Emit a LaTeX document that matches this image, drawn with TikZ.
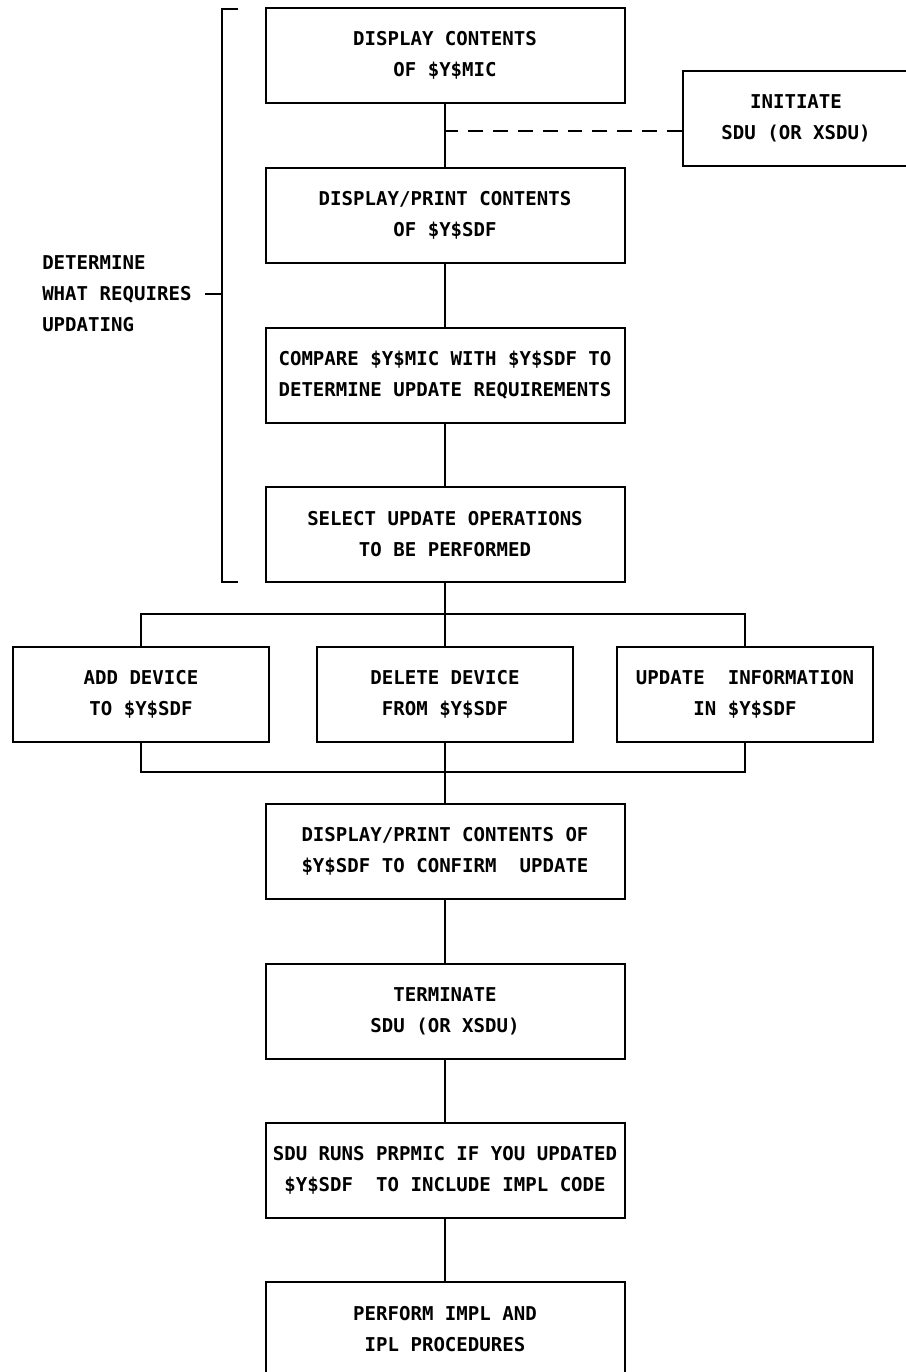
\documentclass[tikz,border=0pt]{standalone}
\usepackage{fontspec}
\setmonofont{DejaVu Sans Mono}
\tikzset{
  txtfont/.style={font=\ttfamily\bfseries\fontsize{14.3pt}{23.25pt}\selectfont},
  box/.style={draw, line width=1.5pt, minimum width=269.25pt, minimum height=71.25pt, align=center, inner sep=0pt, txtfont},
  sbox/.style={box, minimum width=192pt},
  ibox/.style={box, minimum width=170pt},
  conn/.style={line width=1.5pt},
  dashconn/.style={line width=1.5pt, dash pattern=on 11.1pt off 7.5pt},
  lbl/.style={align=left, anchor=west, inner sep=0pt, txtfont}
}
\begin{document}
\begin{tikzpicture}[x=0.75pt,y=-0.75pt]
\useasboundingbox (0,0) rectangle (906,1372);
\clip (0,0) rectangle (906,1372);

\node[box] (b1) at (445,55) {DISPLAY CONTENTS\\OF \$Y\$MIC};
\node[ibox] (init) at (796,118.5) {INITIATE\\SDU (OR XSDU)};
\node[box] (b2) at (445,215) {DISPLAY/PRINT CONTENTS\\OF \$Y\$SDF};
\node[box] (b3) at (445,375) {COMPARE \$Y\$MIC WITH \$Y\$SDF TO\\DETERMINE UPDATE REQUIREMENTS};
\node[box] (b4) at (445,534.5) {SELECT UPDATE OPERATIONS\\TO BE PERFORMED};
\node[sbox] (add) at (141,694) {ADD DEVICE\\TO \$Y\$SDF};
\node[sbox] (del) at (445,694) {DELETE DEVICE\\FROM \$Y\$SDF};
\node[sbox] (upd) at (745,694) {UPDATE\ \ INFORMATION\\IN \$Y\$SDF};
\node[box] (b5) at (445,851) {DISPLAY/PRINT CONTENTS OF\\\$Y\$SDF TO CONFIRM\ \ UPDATE};
\node[box] (b6) at (445,1011) {TERMINATE\\SDU (OR XSDU)};
\node[box] (b7) at (445,1170) {SDU RUNS PRPMIC IF YOU UPDATED\\\$Y\$SDF\ \ TO INCLUDE IMPL CODE};
\node[box] (b8) at (445,1329) {PERFORM IMPL AND\\IPL PROCEDURES};

\node[lbl] (det) at (42,294) {DETERMINE\\WHAT REQUIRES\\UPDATING};

% connectors
\coordinate (dj) at (445,131);
\draw[conn] (b1.south) -- (b2.north);
\draw[dashconn] (init.west |- dj) -- (dj);
\draw[conn] (b2.south) -- (b3.north);
\draw[conn] (b3.south) -- (b4.north);

\coordinate (br) at (445,614);
\draw[conn] (b4.south) -- (del.north);
\draw[conn] (add.north) -- (add.north |- br) -- (upd.north |- br) -- (upd.north);

\coordinate (jn) at (445,772);
\draw[conn] (del.south) -- (b5.north);
\draw[conn] (add.south) -- (add.south |- jn) -- (upd.south |- jn) -- (upd.south);

\draw[conn] (b5.south) -- (b6.north);
\draw[conn] (b6.south) -- (b7.north);
\draw[conn] (b7.south) -- (b8.north);

% bracket
\coordinate (brt) at (238,9);
\coordinate (brb) at (238,582);
\coordinate (brm) at (222,294);
\draw[conn] (brt) -- (brt -| brm) -- (brb -| brm) -- (brb);
\draw[conn] (brm) -- (det.east -| 205,0);
\end{tikzpicture}
\end{document}
